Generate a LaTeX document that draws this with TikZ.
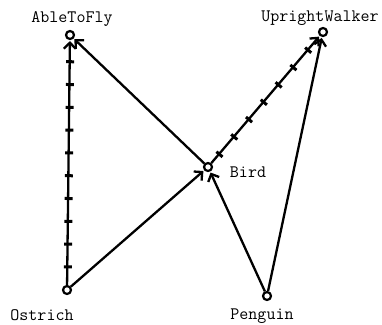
\documentclass[tikz,border=0pt]{standalone}
\usetikzlibrary{arrows.meta,decorations.markings}
\begin{document}
\begin{tikzpicture}[x=1pt,y=-1pt,
  pt/.style={circle,draw,line width=2.2pt,inner sep=0pt,minimum size=8pt},
  lbl/.style={font=\ttfamily\fontsize{17.5}{17.5}\selectfont,inner sep=0pt},
  edge/.style={line width=2.3pt,-{Straight Barb[length=6pt,width=12pt,line width=2.3pt]},shorten >=1pt},
  hatched/.style={edge,postaction={decorate},decoration={markings,
     mark=between positions #1 and -18pt step 22.8pt with {\draw[line width=3pt,-] (0,-4.5pt)--(0,4.5pt);}}}
  ]
\useasboundingbox (0,0) rectangle (382,324);
\node[pt] (able) at (70,35) {};
\node[pt] (up) at (323,32) {};
\node[pt] (bird) at (208,167) {};
\node[pt] (ost) at (67,290) {};
\node[pt] (pen) at (267,296) {};
\node[lbl] (ablel) at (72,19) {AbleToFly};
\node[lbl] (upl) at (320,18) {UprightWalker};
\node[lbl] (birdl) at (248,172) {Bird};
\node[lbl] (ostl) at (42,315.5) {Ostrich};
\node[lbl] (penl) at (262,316) {Penguin};
\draw[hatched=18pt] (ost) -- (able);
\draw[hatched=12pt] (bird) -- (up);
\draw[edge] (bird) -- (able);
\draw[edge] (ost) -- (bird);
\draw[edge] (pen) -- (bird);
\draw[edge] (pen) -- (up);
\end{tikzpicture}
\end{document}
